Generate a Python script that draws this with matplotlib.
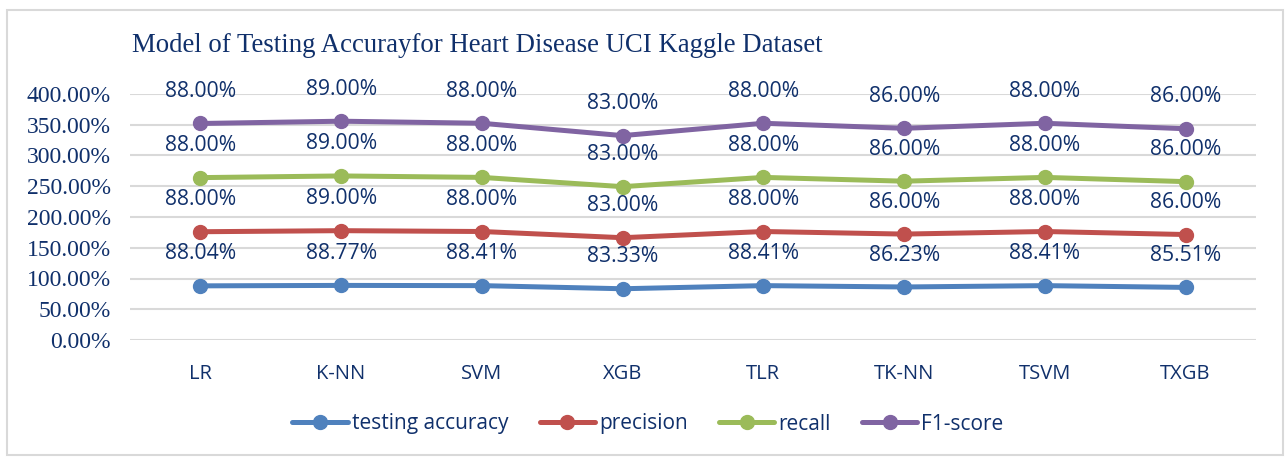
import matplotlib
matplotlib.use("Agg")
import matplotlib.pyplot as plt
import numpy as np
from matplotlib.patches import Rectangle

models = ["LR", "K-NN", "SVM", "XGB", "TLR", "TK-NN", "TSVM", "TXGB"]
testing_accuracy = [88.04, 88.77, 88.41, 83.33, 88.41, 86.23, 88.41, 85.51]
precision = [88.00, 89.00, 88.00, 83.00, 88.00, 86.00, 88.00, 86.00]
recall = [88.00, 89.00, 88.00, 83.00, 88.00, 86.00, 88.00, 86.00]
f1_score = [88.00, 89.00, 88.00, 83.00, 88.00, 86.00, 88.00, 86.00]
series_names = ["testing accuracy", "precision", "recall", "F1-score"]
y_ticks = [0, 50, 100, 150, 200, 250, 300, 350, 400]

colors = ["#4F81BD", "#C0504D", "#9BBB59", "#8064A2"]
navy = "#10306B"
sans = ["Open Sans", "DejaVu Sans"]
serif = ["Liberation Serif", "DejaVu Serif"]

W, H = 1286, 458
fig = plt.figure(figsize=(W / 100, H / 100), dpi=100)
fig.patch.set_facecolor("white")
fig.add_artist(Rectangle((7 / W, 3 / H), 1276 / W, 445 / H, transform=fig.transFigure,
                         fill=False, edgecolor="#D9D9D9", linewidth=1.5))

ax = fig.add_axes([130 / W, 1 - 340 / H, 1126 / W, 246 / H])
x = np.arange(len(models))
data = [testing_accuracy, precision, recall, f1_score]
cum = np.cumsum(np.array(data), axis=0)

for i, (vals, c, name) in enumerate(zip(data, colors, series_names)):
    ax.plot(x, cum[i], color=c, linewidth=3.6, marker="o", markersize=10,
            solid_capstyle="round", label=name, zorder=3)
    for xi, yi, v in zip(x, cum[i], vals):
        ax.annotate(f"{v:.2f}%", (xi, yi), xytext=(0, 23), textcoords="offset points",
                    ha="center", va="center", fontsize=15.2, color=navy, family=sans, zorder=4)

ax.set_xlim(-0.5, len(models) - 0.5)
ax.set_ylim(0, 400)
ax.set_yticks(y_ticks)
ax.set_yticklabels([f"{t:.2f}%" for t in y_ticks], family=serif, fontsize=17, color=navy)
ax.set_xticks(x)
ax.set_xticklabels(models, family=sans, fontsize=14.5, color=navy)
ax.tick_params(axis="both", length=0)
ax.tick_params(axis="y", pad=14)
ax.tick_params(axis="x", pad=17)
ax.yaxis.grid(True, color="#D9D9D9", linewidth=1.5, zorder=0)
for s in ax.spines.values():
    s.set_visible(False)
ax.set_axisbelow(True)

fig.text(132 / W, 1 - 45 / H, "Model of Testing Accurayfor Heart Disease UCI Kaggle Dataset",
         family=serif, fontsize=19.3, color=navy, ha="left", va="center")

leg = fig.legend(loc="center", bbox_to_anchor=(648 / W, 1 - 424 / H), ncol=4, frameon=False,
                 prop={"family": sans, "size": 15}, handlelength=2.65, handletextpad=0.2,
                 columnspacing=1.5)
for t in leg.get_texts():
    t.set_color(navy)

fig.savefig("out.png", dpi=100)
